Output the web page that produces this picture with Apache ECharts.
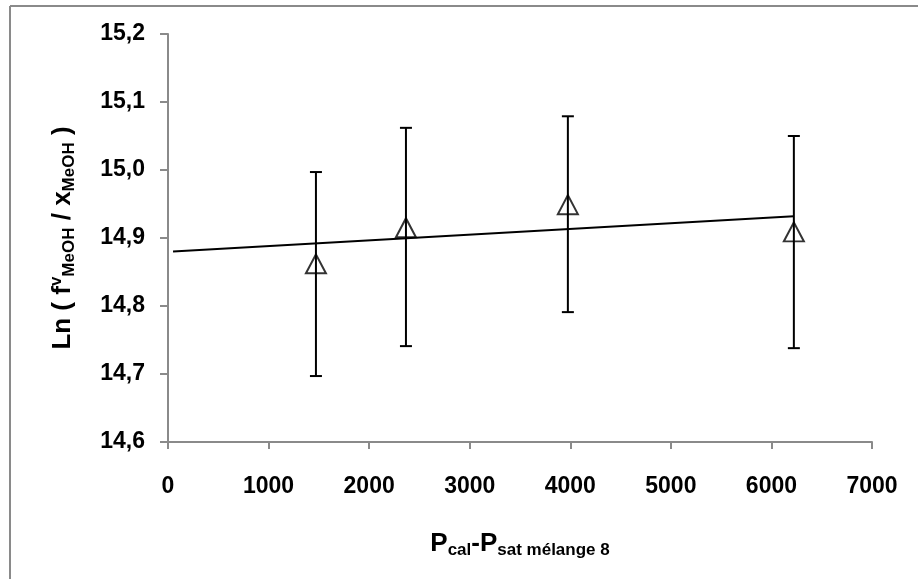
<!DOCTYPE html>
<html>
<head>
<meta charset="utf-8">
<script src="https://cdn.jsdelivr.net/npm/echarts@6/dist/echarts.min.js"></script>
<style>
html,body{margin:0;padding:0;background:#fff;}
#chart{width:918px;height:579px;}
</style>
</head>
<body>
<div id="chart"></div>
<script>
// Data
const xValues = [1471, 2366, 3976, 6223];
const yValues = [14.862, 14.915, 14.949, 14.909];
const errLow = [14.697, 14.741, 14.791, 14.738];
const errHigh = [14.997, 15.062, 15.079, 15.050];
const trendX = [50, 6223];
const trendY = [14.880, 14.932];
const xAxisRange = [0, 7000, 1000];
const yAxisRange = [14.6, 15.2, 0.1];

const FONT = '"Liberation Sans", Arial, sans-serif';
const chart = echarts.init(document.getElementById('chart'), null, {renderer: 'canvas'});

const pointData = xValues.map((x, i) => [x, yValues[i]]);
const errData = xValues.map((x, i) => [x, errLow[i], errHigh[i]]);
const trendData = trendX.map((x, i) => [x, trendY[i]]);

chart.setOption({
  animation: false,
  backgroundColor: '#fff',
  grid: {left: 168, right: 46, top: 34, bottom: 137, containLabel: false},
  graphic: [
    {type: 'line', shape: {x1: 10, y1: 6, x2: 918, y2: 6}, style: {stroke: '#8a8a8a', lineWidth: 2}},
    {type: 'line', shape: {x1: 10, y1: 6, x2: 10, y2: 579}, style: {stroke: '#8a8a8a', lineWidth: 2}}
  ],
  xAxis: {
    type: 'value',
    min: xAxisRange[0], max: xAxisRange[1], interval: xAxisRange[2],
    axisLine: {show: true, lineStyle: {color: '#8a8a8a', width: 2}},
    axisTick: {show: true, inside: false, length: 7, lineStyle: {color: '#8a8a8a', width: 2}},
    splitLine: {show: false},
    axisLabel: {color: '#000', fontFamily: FONT, fontWeight: 'bold', fontSize: 23, margin: 33,
      formatter: v => String(v)},
    name: '{p|P}{sub|cal}{p|-P}{sub|sat mélange 8}',
    nameLocation: 'middle',
    nameGap: 87,
    nameTextStyle: {
      color: '#000', fontFamily: FONT, fontWeight: 'bold',
      rich: {
        p: {fontSize: 26, fontFamily: FONT, fontWeight: 'bold', color: '#000', lineHeight: 30, verticalAlign: 'middle'},
        sub: {fontSize: 17, fontFamily: FONT, fontWeight: 'bold', color: '#000', lineHeight: 18, verticalAlign: 'bottom'}
      }
    }
  },
  yAxis: {
    type: 'value',
    min: yAxisRange[0], max: yAxisRange[1], interval: yAxisRange[2],
    axisLine: {show: true, lineStyle: {color: '#8a8a8a', width: 2}},
    axisTick: {show: true, inside: false, length: 8, lineStyle: {color: '#8a8a8a', width: 2}},
    splitLine: {show: false},
    axisLabel: {
      color: '#000', fontFamily: FONT, fontWeight: 'bold', fontSize: 23, margin: 23,
      formatter: v => v.toFixed(1).replace('.', ',')
    },
    name: '{m|Ln ( f}{sup|v}{sub|MeOH}{m| / x}{sub|MeOH}{m| )}',
    nameLocation: 'middle',
    nameRotate: 90,
    nameGap: 90,
    nameTextStyle: {
      color: '#000', fontFamily: FONT, fontWeight: 'bold',
      rich: {
        m: {fontSize: 26, fontFamily: FONT, fontWeight: 'bold', color: '#000', lineHeight: 30, verticalAlign: 'middle'},
        sup: {fontSize: 17, fontFamily: FONT, fontWeight: 'bold', color: '#000', lineHeight: 18, verticalAlign: 'top'},
        sub: {fontSize: 17, fontFamily: FONT, fontWeight: 'bold', color: '#000', lineHeight: 18, verticalAlign: 'bottom'}
      }
    }
  },
  series: [
    {
      type: 'line',
      data: trendData,
      symbol: 'none',
      lineStyle: {color: '#000', width: 2},
      silent: true,
      z: 2
    },
    {
      type: 'custom',
      data: errData,
      encode: {x: 0, y: [1, 2]},
      renderItem: function (params, api) {
        const x = api.value(0);
        const top = api.coord([x, api.value(2)]);
        const bot = api.coord([x, api.value(1)]);
        const hw = 6;
        const st = {stroke: '#000', lineWidth: 2};
        return {
          type: 'group',
          children: [
            {type: 'line', shape: {x1: top[0], y1: top[1], x2: bot[0], y2: bot[1]}, style: st},
            {type: 'line', shape: {x1: top[0] - hw, y1: top[1], x2: top[0] + hw, y2: top[1]}, style: st},
            {type: 'line', shape: {x1: bot[0] - hw, y1: bot[1], x2: bot[0] + hw, y2: bot[1]}, style: st}
          ]
        };
      },
      z: 3
    },
    {
      type: 'scatter',
      data: pointData,
      symbol: 'triangle',
      symbolSize: [20, 19],
      itemStyle: {color: 'rgba(0,0,0,0)', borderColor: '#000', borderWidth: 2},
      z: 4
    }
  ]
});
</script>
</body>
</html>
